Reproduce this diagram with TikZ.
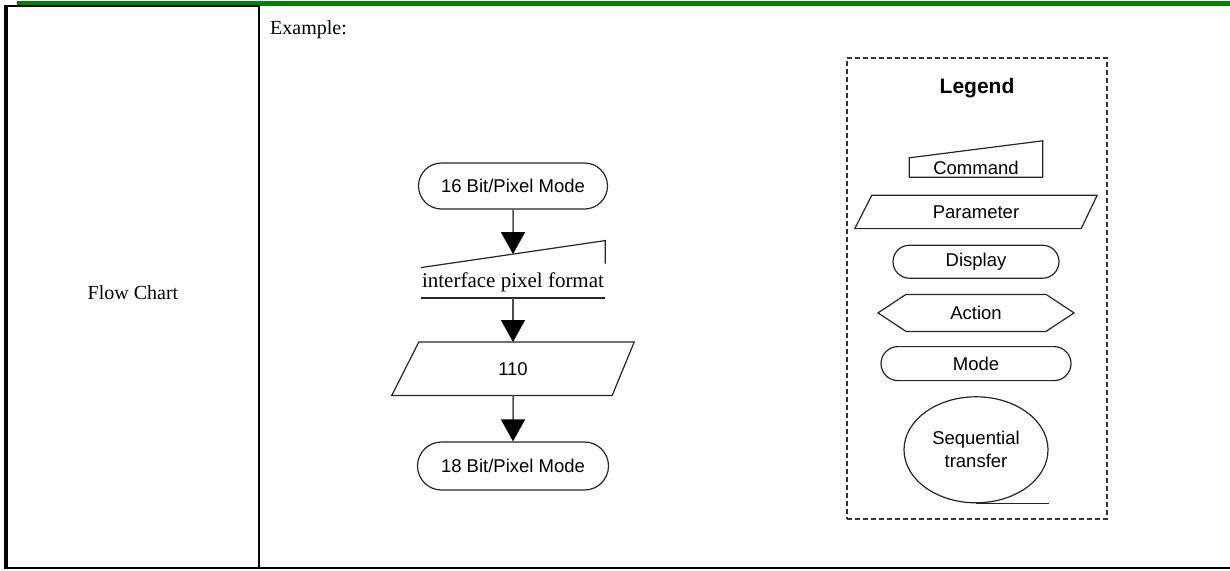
\documentclass[tikz,border=0pt]{standalone}
\usepackage{fontspec}
\setmainfont{Liberation Serif}
\newfontfamily\arialfont{Liberation Sans}
\usepackage{tikz}
\usetikzlibrary{positioning,arrows.meta,shapes.misc,shapes.geometric,shapes.symbols}
\definecolor{barGreen}{RGB}{0,128,0}
\tikzset{ModeNode/.style={%
    shape=rounded rectangle,%
    draw=black!85,%
    line width=1.2pt,%
    font=\arialfont\fontsize{18.5}{22}\selectfont,%
    inner sep=2pt,%
}}
\tikzset{ParamText/.style={%
    inner sep=0pt,%
    font=\arialfont\fontsize{18.5}{22}\selectfont,%
}}
\tikzset{ActionNode/.style={%
    shape=signal,%
    signal to=west and east,%
    signal pointer angle=67,%
    draw=black!85,%
    line width=1.2pt,%
    font=\arialfont\fontsize{18.5}{22}\selectfont,%
    inner sep=2pt,%
}}
\tikzset{SeqNode/.style={%
    shape=ellipse,%
    draw=black!85,%
    line width=1.2pt,%
    align=center,%
    font=\arialfont\fontsize{18.5}{23}\selectfont,%
    inner sep=0pt,%
}}
\tikzset{CmdText/.style={%
    inner sep=0pt,%
    font=\arialfont\fontsize{18.5}{22}\selectfont,%
}}
\tikzset{CmdLine/.style={%
    draw=black!85,%
    line width=1.2pt,%
}}
\tikzset{FlowArrow/.style={%
    -{Triangle[width=24pt,length=22pt,color=black]},%
    draw=black!70,%
    line width=1.5pt,%
}}
\tikzset{LegendFrame/.style={%
    draw=black!80,%
    line width=1.5pt,%
    dash pattern=on 5pt off 3pt,%
}}
\NewDocumentCommand{\cellText}{m}{%
    {\fontsize{20}{24}\selectfont #1}%
}

\begin{document}
\begin{tikzpicture}[x=1pt,y=-1pt]
    \useasboundingbox (0,0) rectangle (1230,570);

    % table frame
    \fill[barGreen] (17,1) rectangle (1230,6);
    \draw[line width=2pt] (4,6) -- (260,6);
    \draw[line width=3.5pt] (6,5) -- (6,569);
    \draw[line width=2pt] (259,6) -- (259,569);
    \draw[line width=2pt] (4,568) -- (1230,568);
    \node (fc) at (133,293) {\cellText{Flow Chart}};
    \node[anchor=west, inner sep=0pt] (ex) at (270,30) {\cellText{Example:}};

    % flow chart
    \node[ModeNode, minimum width=193pt, minimum height=46pt] (m16) at (513,186) {16 Bit/Pixel Mode};
    \node[inner sep=0pt, minimum width=184pt, minimum height=30pt, below=58pt of m16] (ifmt) {{\fontsize{21}{24}\selectfont interface pixel format}};
    \node[ParamText, minimum width=242pt, minimum height=53pt, below=44pt of ifmt] (p110) {110};
    \node[ModeNode, minimum width=195pt, minimum height=48pt, below=46pt of p110] (m18) {18 Bit/Pixel Mode};

    \draw[CmdLine] (ifmt.north west) -- ([yshift=27pt]ifmt.north east) -- ([yshift=4pt]ifmt.north east);
    \draw[CmdLine, line width=2pt] (ifmt.south west) -- (ifmt.south east);
    \draw[CmdLine] (p110.south west) -- ([xshift=27pt]p110.north west) -- (p110.north east) -- ([xshift=-22pt]p110.south east) -- cycle;

    \path (m16) edge[FlowArrow] ([yshift=13.5pt]ifmt.north);
    \path (ifmt) edge[FlowArrow] (p110);
    \path (p110) edge[FlowArrow] (m18);

    % legend
    \node[LegendFrame, minimum width=260pt, minimum height=461pt] (lgBox) at (977,288.5) {};
    \node[font=\arialfont\bfseries\fontsize{21}{25}\selectfont] (lgTitle) at (977,88) {Legend};
    \node[CmdText, minimum width=133pt, minimum height=19pt] (lgCmd) at (976,167.5) {Command};
    \draw[CmdLine] (lgCmd.south west) -- (lgCmd.north west) -- ([yshift=17pt]lgCmd.north east) -- (lgCmd.south east) -- cycle;
    \node[ParamText, minimum width=242pt, minimum height=33pt, below=18pt of lgCmd] (lgPar) {Parameter};
    \draw[CmdLine] (lgPar.south west) -- ([xshift=17pt]lgPar.north west) -- (lgPar.north east) -- ([xshift=-16pt]lgPar.south east) -- cycle;
    \node[ModeNode, minimum width=170pt, minimum height=33pt, below=16pt of lgPar] (lgDisp) {Display};
    \node[ActionNode, minimum width=196pt, minimum height=37pt, below=15pt of lgDisp] (lgAct) {Action};
    \node[ModeNode, minimum width=194pt, minimum height=34pt, below=14pt of lgAct] (lgMode) {Mode};
    \node[SeqNode, minimum width=144pt, minimum height=106pt, below=15pt of lgMode] (lgSeq) {Sequential\\transfer};
    \draw[CmdLine] (lgSeq.south) -- ([xshift=73pt]lgSeq.south);
\end{tikzpicture}
\end{document}
